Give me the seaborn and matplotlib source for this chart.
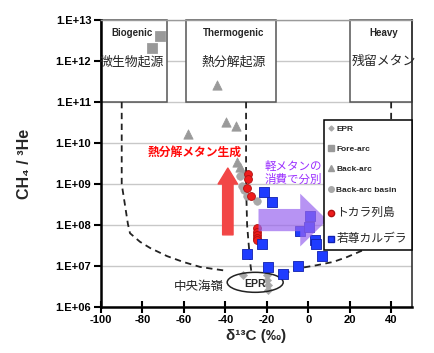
import matplotlib
matplotlib.use("Agg")
import numpy as np
import pandas as pd
import seaborn as sns
import matplotlib.pyplot as plt
from matplotlib.patches import Rectangle, FancyArrowPatch, Ellipse
from matplotlib.lines import Line2D

sns.set_theme(style="white")
plt.rcParams["font.family"] = ["Liberation Sans", "Noto Sans CJK JP", "DejaVu Sans"]

# ---------------- data ----------------
epr_x = [-31.4, -20.0, -20.0, -19.6, -19.6]
epr_y = [6.0e6, 6.0e6, 4.6e6, 3.5e6, 2.6e6]

forearc_x = [-71.5, -75.4]
forearc_y = [4.1e12, 2.1e12]

backarc_x = [-44.0, -58.0, -39.6, -35.0, -34.3, -33.0, -32.2]
backarc_y = [2.6e11, 1.7e10, 3.2e10, 2.6e10, 3.5e9, 2.6e9, 2.0e9]

basin_x = [-33.0, -32.0, -31.0, -29.7, -24.6]
basin_y = [1.6e9, 8.9e8, 7.1e8, 5.0e8, 3.8e8]

tokara_x = [-29.0, -29.0, -29.5, -27.5, -24.7, -24.7, -24.7, -24.7, -24.7]
tokara_y = [1.74e9, 1.3e9, 7.9e8, 5.1e8, 8.5e7, 6.8e7, 5.8e7, 4.8e7, 4.3e7]

wakamiko_x = [-21.3, -17.4, -22.2, -29.5, -19.3, -12.0, -4.8, -3.9, 1.0, 0.5, 3.4, 3.8, 6.8]
wakamiko_y = [6.3e8, 3.6e8, 3.5e7, 1.95e7, 9.5e6, 6.3e6, 1.0e7, 7.1e7, 1.66e8, 8.9e7, 4.3e7, 3.5e7, 1.74e7]

# boundary (dashed) curves
left_x = [-90, -90, -87, -86, -81.2, -76.3, -68.1, -60.4, -52.2, -45.9, -39.1]
left_y = [1e11, 1e9, 1.05e8, 6.3e7, 3.9e7, 2.75e7, 1.74e7, 1.26e7, 9.5e6, 8.5e6, 7.6e6]
mid_x = [-30, -30, -29.5, -28, -27.5]
mid_y = [1e11, 1e9, 1e8, 1.2e7, 7.6e6]
right_x = [40, 40, 38, 26.6, 18.8, 12.1, 4.3, -3.9, -9.7]
right_y = [1e11, 3e8, 6e7, 2.45e7, 1.66e7, 1.26e7, 1.05e7, 8.9e6, 7.1e6]

# origin boxes
box_left = [-100, -59, 20.3]
box_right = [-68, -15.5, 50]
box_en = ["Biogenic", "Thermogenic", "Heavy"]
box_jp = ["微生物起源", "熱分解起源", "残留メタン"]
box_text_x = [-85, -36, 36.5]

xticks = [-100, -80, -60, -40, -20, 0, 20, 40]
yticks = [1e6, 1e7, 1e8, 1e9, 1e10, 1e11, 1e12, 1e13]
ytick_labels = ["1.E+06", "1.E+07", "1.E+08", "1.E+09", "1.E+10", "1.E+11", "1.E+12", "1.E+13"]

legend_labels = ["EPR", "Fore-arc", "Back-arc", "Back-arc basin", "トカラ列島", "若尊カルデラ"]

# ---------------- figure ----------------
fig = plt.figure(figsize=(4.34, 3.53), dpi=100)
ax = fig.add_axes([0.2327, 0.1303, 0.7163, 0.813])
ax.set_yscale("log")
ax.set_xlim(-100, 50)
ax.set_ylim(1e6, 1e13)

ax.set_yticks(yticks)
ax.set_yticklabels(ytick_labels)
ax.yaxis.set_minor_locator(matplotlib.ticker.NullLocator())
ax.set_xticks(xticks)
ax.set_xticklabels([str(v) for v in xticks])
for lab in ax.get_xticklabels() + ax.get_yticklabels():
    lab.set_fontweight("bold")
    lab.set_fontsize(8)
ax.tick_params(axis="y", direction="out", length=5, width=1.5, pad=2, colors="black", left=True)
ax.tick_params(axis="x", direction="inout", length=8, width=1.5, pad=2, colors="black", bottom=True)

ax.grid(axis="y", color="#c8c8c8", lw=1)
ax.grid(axis="x", visible=False)
ax.set_axisbelow(True)

ax.spines["left"].set_color("black"); ax.spines["left"].set_linewidth(1.8)
ax.spines["bottom"].set_color("black"); ax.spines["bottom"].set_linewidth(1.8)
ax.spines["top"].set_color("#9a9a9a"); ax.spines["top"].set_linewidth(1)
ax.spines["right"].set_color("#333333"); ax.spines["right"].set_linewidth(1.2)

# boxes
for l, r, en, jp, tx in zip(box_left, box_right, box_en, box_jp, box_text_x):
    ax.add_patch(Rectangle((l, 1e11), r - l, 1e13 - 1e11, facecolor="white",
                           edgecolor="#555555", lw=1.1, zorder=2, clip_on=False))
    ax.text(tx, 4.8e12, en, ha="center", va="center", fontsize=7, fontweight="bold", zorder=5)
    ax.text(tx, 9.6e11, jp, ha="center", va="center", fontsize=9.3, zorder=5,
            family=["Noto Sans CJK JP"])

# dashed boundaries
for cx, cy in [(left_x, left_y), (mid_x, mid_y), (right_x, right_y)]:
    sns.lineplot(x=cx, y=cy, ax=ax, color="#222222", lw=1.3, sort=False,
                 estimator=None, zorder=2.5, dashes=False).lines[-1].set_dashes([3.5, 2.5])

# red arrow
ax.add_patch(FancyArrowPatch((-38.8, 5.75e7), (-38.8, 2.45e9),
                             arrowstyle="simple,head_length=11.5,head_width=14,tail_width=7.5",
                             mutation_scale=1, color="#f24646", shrinkA=0, shrinkB=0, zorder=3))

# points
sns.scatterplot(x=forearc_x, y=forearc_y, ax=ax, marker="s", s=48, color="#999999",
                edgecolor="#999999", zorder=4)
sns.scatterplot(x=backarc_x, y=backarc_y, ax=ax, marker="^", s=45, color="#9a9a9a",
                edgecolor="#9a9a9a", zorder=4)
sns.scatterplot(x=basin_x, y=basin_y, ax=ax, marker="o", s=30, color="#a8a8a8",
                edgecolor="#a8a8a8", zorder=4)
sns.scatterplot(x=epr_x, y=epr_y, ax=ax, marker="D", s=18, color="#a8a8a8",
                edgecolor="#a8a8a8", zorder=4)
sns.scatterplot(x=tokara_x, y=tokara_y, ax=ax, marker="o", s=32, color="#ee1c1c",
                edgecolor="#b01010", linewidth=0.6, zorder=4.5)
sns.scatterplot(x=wakamiko_x, y=wakamiko_y, ax=ax, marker="s", s=45, color="#1f3cff",
                edgecolor="#1020b0", linewidth=0.6, zorder=4.5)

# purple arrow
ax.add_patch(FancyArrowPatch((-24, 1.32e8), (9.2, 1.32e8),
                             arrowstyle="simple,head_length=19.5,head_width=38,tail_width=16",
                             mutation_scale=1, color="#9966ee", alpha=0.7, lw=0,
                             shrinkA=0, shrinkB=0, zorder=5))

# EPR ellipse (in axes coordinates so it stays a true ellipse)
cx_disp = ax.transData.transform((-25.6, 4.0e6))
cx_ax = ax.transAxes.inverted().transform(cx_disp)
ax.add_patch(Ellipse(cx_ax, 56 / 311, 20 / 287, transform=ax.transAxes,
                     facecolor="none", edgecolor="#222222", lw=1.1, zorder=4))
ax.text(-25.6, 3.6e6, "EPR", ha="center", va="center", fontsize=7.5, fontweight="bold", zorder=6)
ax.text(-53, 3.25e6, "中央海嶺", ha="center", va="center", fontsize=9, zorder=6,
        family=["Noto Sans CJK JP"])

# annotations
ax.text(-55, 5.8e9, "熱分解メタン生成", ha="center", va="center", fontsize=8.5,
        color="#ff0a0a", fontweight="bold", zorder=6, family=["Noto Sans CJK JP"])
ax.text(-7.2, 1.85e9, "軽メタンの\n消費で分別", ha="center", va="center", fontsize=8.3,
        color="#9b30ff", linespacing=1.05, zorder=6, family=["Noto Sans CJK JP"])

# legend
handles = [
    Line2D([], [], ls="", marker="D", ms=2.5, color="#a8a8a8"),
    Line2D([], [], ls="", marker="s", ms=4, color="#999999"),
    Line2D([], [], ls="", marker="^", ms=4, color="#9a9a9a"),
    Line2D([], [], ls="", marker="o", ms=4, color="#a8a8a8"),
    Line2D([], [], ls="", marker="o", ms=4.5, color="#ee1c1c", mec="#b01010"),
    Line2D([], [], ls="", marker="s", ms=4.5, color="#1f3cff", mec="#1020b0"),
]
leg = ax.legend(handles, legend_labels, loc="upper right", bbox_to_anchor=(1.0, 0.652),
                borderaxespad=0, fancybox=False, framealpha=1, edgecolor="black",
                prop={"size": 6, "weight": "bold"}, handlelength=0.6, handletextpad=0.3,
                labelspacing=1.5, borderpad=0.6)
leg.get_frame().set_linewidth(1.1)
leg.set_zorder(10)
for i, t in enumerate(leg.get_texts()):
    if i >= 4:
        t.set_fontsize(8.5)
        t.set_fontweight("normal")
        t.set_family(["Noto Sans CJK JP"])

ax.set_xlabel("δ¹³C (‰)", fontsize=11, fontweight="bold")
ax.set_ylabel("CH₄ / ³He", fontsize=11.5, fontweight="bold")
ax.xaxis.set_label_coords(0.5, -0.075)
ax.yaxis.set_label_coords(-0.222, 0.5)

fig.savefig("out.png", dpi=100)
